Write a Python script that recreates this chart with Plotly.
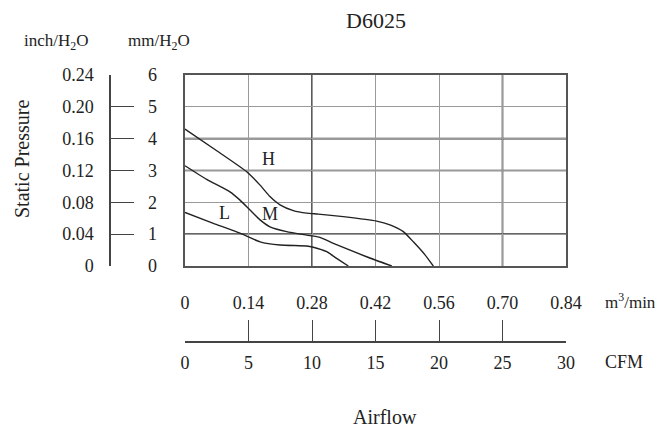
import plotly.graph_objects as go

W, H = 669, 433

# ---- data (airflow in CFM, static pressure in mmH2O) ----
H_CFM = [0, 2.5, 4.86, 5.91, 6.69, 7.48, 8.53, 9.58, 10.5, 12.46, 15.09, 16.14, 17.19, 17.98, 18.9, 19.55]
H_MM = [4.30, 3.62, 2.96, 2.54, 2.18, 1.92, 1.74, 1.66, 1.63, 1.55, 1.41, 1.29, 1.08, 0.76, 0.35, 0]
M_CFM = [0, 1.71, 3.54, 4.33, 5.12, 5.91, 6.69, 8.0, 9.58, 10.63, 11.68, 14.3, 16.28]
M_MM = [3.15, 2.72, 2.33, 2.07, 1.76, 1.45, 1.23, 1.08, 0.97, 0.90, 0.71, 0.29, 0]
L_CFM = [0, 2.23, 4.33, 5.91, 7.48, 9.58, 10.1, 11.16, 11.94, 12.86]
L_MM = [1.68, 1.34, 1.03, 0.76, 0.66, 0.63, 0.59, 0.45, 0.24, 0]

CURVE_NAMES = ["H", "M", "L"]
LABEL_POS = {"H": (6.6, 3.35), "M": (6.7, 1.63), "L": (3.1, 1.66)}

CFM_TICKS = [0, 5, 10, 15, 20, 25, 30]
CFM_TEXT = ["0", "5", "10", "15", "20", "25", "30"]
M3_TEXT = ["0", "0.14", "0.28", "0.42", "0.56", "0.70", "0.84"]
MM_TICKS = [0, 1, 2, 3, 4, 5, 6]
MM_TEXT = ["0", "1", "2", "3", "4", "5", "6"]
INCH_TEXT = ["0", "0.04", "0.08", "0.12", "0.16", "0.20", "0.24"]
DARK_X = [10, 25]
DARK_Y = [1, 3, 4]

FONT = "Liberation Serif, Times New Roman, serif"
INK = "#222222"

def px(x):
    return x / W

def py(y):
    return (H - y) / H

fig = go.Figure()
for name, xs, ys in [("H", H_CFM, H_MM), ("M", M_CFM, M_MM), ("L", L_CFM, L_MM)]:
    fig.add_trace(go.Scatter(x=xs, y=ys, mode="lines", name=name,
                             line=dict(color=INK, width=1.4, shape="spline", smoothing=0.5),
                             showlegend=False, hoverinfo="skip"))

# invisible carriers so the extra scale axes get drawn
for xa, ya in [("x2", "y2"), ("x3", "y3")]:
    fig.add_trace(go.Scatter(x=CFM_TICKS, y=MM_TICKS, xaxis=xa, yaxis=ya, mode="markers",
                             marker=dict(opacity=0), showlegend=False, hoverinfo="skip"))

for v in DARK_X:
    fig.add_shape(type="line", xref="x", yref="y", x0=v, x1=v, y0=0, y1=6,
                  line=dict(color="#333333", width=1.6), layer="below")
for v in DARK_Y:
    fig.add_shape(type="line", xref="x", yref="y", x0=0, x1=30, y0=v, y1=v,
                  line=dict(color="#333333", width=1.6), layer="below")

ann = []
for n in CURVE_NAMES:
    ann.append(dict(x=LABEL_POS[n][0], y=LABEL_POS[n][1], xref="x", yref="y", text=n,
                    showarrow=False, font=dict(family=FONT, size=18, color=INK)))

def paper_text(x, y, text, size=17, angle=0, xanchor="center"):
    ann.append(dict(x=px(x), y=py(y), xref="paper", yref="paper", text=text,
                    showarrow=False, textangle=angle, xanchor=xanchor, yanchor="middle",
                    font=dict(family=FONT, size=size, color=INK)))

paper_text(376, 20, "D6025", size=22)
paper_text(56, 42, "inch/H<sub>2</sub>O", size=17)
paper_text(159, 42, "mm/H<sub>2</sub>O", size=17)
paper_text(22, 159, "Static Pressure", size=20, angle=-90)
paper_text(630, 301, "m<sup>3</sup>/min", size=17)
paper_text(624, 362, "CFM", size=18)
paper_text(385, 417, "Airflow", size=20)

tickfont = dict(family=FONT, size=18, color=INK)
xdom = [px(185), px(566)]
ydom = [py(266), py(75)]

fig.update_layout(
    width=W, height=H,
    margin=dict(l=0, r=0, t=0, b=0, autoexpand=False),
    paper_bgcolor="white", plot_bgcolor="white",
    annotations=ann,
    xaxis=dict(domain=xdom, range=[0, 30], tickvals=CFM_TICKS, showticklabels=False,
               showgrid=True, gridcolor="#9a9a9a", gridwidth=1.2, zeroline=False,
               showline=True, linecolor="#555555", linewidth=1.5, mirror=True, ticks=""),
    yaxis=dict(domain=ydom, range=[0, 6], tickvals=MM_TICKS, showticklabels=False,
               showgrid=True, gridcolor="#9a9a9a", gridwidth=1.2, zeroline=False,
               showline=True, linecolor="#555555", linewidth=1.5, mirror=True, ticks=""),
    xaxis2=dict(overlaying="x", anchor="free", position=py(290), side="bottom",
                range=[0, 30], tickvals=CFM_TICKS, ticktext=M3_TEXT, tickfont=tickfont,
                showline=False, showgrid=False, zeroline=False, ticks=""),
    xaxis3=dict(overlaying="x", anchor="free", position=py(341.7), side="bottom",
                range=[0, 30], tickvals=CFM_TICKS, ticktext=CFM_TEXT, tickfont=tickfont,
                showline=True, linecolor="#444444", linewidth=1.5, showgrid=False, zeroline=False,
                ticks="inside", ticklen=21, tickwidth=1.3, tickcolor="#444444",
                ticklabelstandoff=5),
    yaxis2=dict(overlaying="y", anchor="free", position=px(110), side="left",
                range=[0, 6], tickvals=MM_TICKS, ticktext=INCH_TEXT, tickfont=tickfont,
                showline=True, linecolor="#444444", linewidth=1.5, showgrid=False, zeroline=False,
                ticks="inside", ticklen=23, tickwidth=1.3, tickcolor="#444444",
                ticklabelstandoff=12),
    yaxis3=dict(overlaying="y", anchor="free", position=px(157), side="left",
                range=[0, 6], tickvals=MM_TICKS, ticktext=MM_TEXT, tickfont=tickfont,
                showline=False, showgrid=False, zeroline=False, ticks=""),
)

fig.write_html("out.html", config={"displayModeBar": False},
               post_script="document.body.style.margin='0';")
